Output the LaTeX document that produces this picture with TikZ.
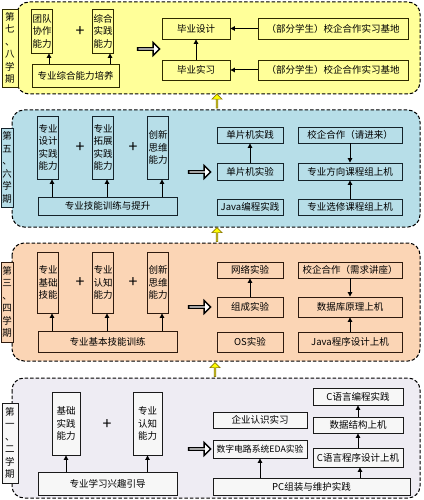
\documentclass[tikz,border=0pt]{standalone}
\usepackage{fontspec}
\setmainfont{Noto Sans CJK SC}
\usetikzlibrary{arrows.meta,shapes.arrows}
\definecolor{pY}{HTML}{FFFF99}
\definecolor{pB}{HTML}{B7DEE8}
\definecolor{pP}{HTML}{FBD5B5}
\definecolor{pL}{HTML}{EEECF3}
\definecolor{bY}{HTML}{2E2A00}
\definecolor{bB}{HTML}{14222A}
\definecolor{bP}{HTML}{2E1A0E}
\definecolor{bL}{HTML}{1A1A1A}
\definecolor{arY}{HTML}{FFFF00}
\definecolor{arYb}{HTML}{8A7A00}
\newcommand\mybox[7][]{\node[box,#1,minimum width={(#5)-(#3)},minimum height={(#6)-(#4)}] (#2) at ({((#3)+(#5))/2},{((#4)+(#6))/2}) {#7};}
\begin{document}
\begin{tikzpicture}[x=1pt,y=-1pt,
  every node/.style={font=\fontsize{9.5}{12.5}\selectfont},
  box/.style={draw,line width=0.9pt,inner sep=1pt,align=center},
  panel/.style={draw=black,dash pattern=on 3.5pt off 2pt,line width=1pt,rounded corners=12pt},
  arr/.style={line width=1pt,-{Triangle[length=4.5pt,width=4.5pt]}},
  plus/.style={font=\fontsize{16}{16}\selectfont,inner sep=0pt},
  hollow/.style={single arrow,draw=black,fill=white,line width=1.4pt,minimum height=22pt,minimum width=13pt,single arrow head extend=3pt,inner sep=0pt},
  yarrow/.style={single arrow,draw=arYb,fill=arY,line width=0.7pt,minimum height=14pt,minimum width=10pt,single arrow head extend=2pt,inner sep=0pt,shape border rotate=90},
  pan1/.style={box,draw=bY,fill=pY},
  pan2/.style={box,draw=bB,fill=pB},
  pan3/.style={box,draw=bP,fill=pP},
  pan4/.style={box,draw=bL,fill=white!97!black},
]
\useasboundingbox (0,0) rectangle (423,500);
% ---------- panel 1 ----------
\draw[panel,fill=pY] (17,2) rectangle (420,94);
\mybox[pan1]{L1}{2}{9}{18}{87}{第\\七\\、\\八\\学\\期}
\mybox[pan1]{a1}{32}{9}{52}{53}{团队\\协作\\能力}
\mybox[pan1]{a2}{93}{9}{113}{53}{综合\\实践\\能力}
\node[plus] (p1) at (80,32) {+};
\mybox[pan1]{b1}{32}{64}{119}{87}{专业综合能力培养}
\coordinate (ta1) at ([xshift=7pt]a1.south);
\coordinate (ta2) at ([xshift=7pt]a2.south);
\draw[arr] (ta1 |- b1.north) -- (ta1);
\draw[arr] (ta2 |- b1.north) -- (ta2);
\node[hollow] (h1) at (148,49) {};
\mybox[pan1]{c1}{162}{18}{230}{39}{毕业设计}
\mybox[pan1]{c2}{162}{60}{230}{80}{毕业实习}
\mybox[pan1]{d1}{258}{18}{408}{39}{（部分学生）校企合作实习基地}
\mybox[pan1]{d2}{258}{60}{408}{80}{（部分学生）校企合作实习基地}
\draw[arr] (c2) -- (c1);
\draw[arr] (d1) -- (c1);
\draw[arr] (d2) -- (c2);
\node[yarrow] (y1) at (217,101.5) {};
% ---------- panel 2 ----------
\draw[panel,fill=pB] (12,110) rectangle (420,227);
\mybox[pan2,inner sep=0pt]{L2}{1}{128}{13}{207}{第\\五\\、\\六\\学\\期}
\mybox[pan2]{e1}{38}{116}{58}{179}{专业\\设计\\实践\\能力}
\mybox[pan2]{e2}{93}{116}{113}{179}{专业\\拓展\\实践\\能力}
\mybox[pan2]{e3}{148}{116}{168}{179}{创新\\思维\\能力}
\node[plus] (p2) at (80,148) {+};
\node[plus] (p3) at (133,148) {+};
\mybox[pan2]{f1}{38}{197}{177}{215}{专业技能训练与提升}
\coordinate (te1) at ([xshift=4pt]e1.south);
\coordinate (te2) at ([xshift=4pt]e2.south);
\coordinate (te3) at ([xshift=4pt]e3.south);
\draw[arr] (te1 |- f1.north) -- (te1);
\draw[arr] (te2 |- f1.north) -- (te2);
\draw[arr] (te3 |- f1.north) -- (te3);
\node[hollow] (h2) at (199,172) {};
\mybox[pan2]{g1}{217}{127}{283}{143}{单片机实践}
\mybox[pan2]{g2}{217}{163}{283}{180}{单片机实验}
\mybox[pan2]{g3}{217}{199}{283}{215}{Java编程实践}
\mybox[pan2]{k1}{298}{127}{402}{143}{校企合作（请进来）}
\mybox[pan2]{k2}{298}{163}{402}{180}{专业方向课程组上机}
\mybox[pan2]{k3}{298}{199}{402}{215}{专业选修课程组上机}
\draw[arr] (g2) -- (g1);
\draw[arr] (k1) -- (k2);
\draw[arr] (k3) -- (k2);
\node[yarrow] (y2) at (217,235) {};
% ---------- panel 3 ----------
\draw[panel,fill=pP] (12,243) rectangle (420,361);
\mybox[pan3,inner sep=0pt]{L3}{1}{262}{13}{342}{第\\三\\、\\四\\学\\期}
\mybox[pan3]{m1}{38}{252}{58}{313}{专业\\基础\\技能}
\mybox[pan3]{m2}{93}{252}{113}{313}{专业\\认知\\能力}
\mybox[pan3]{m3}{148}{252}{168}{313}{创新\\思维\\能力}
\node[plus] (p4) at (80,283) {+};
\node[plus] (p5) at (133,283) {+};
\mybox[pan3]{n1}{38}{331}{177}{352}{专业基本技能训练}
\coordinate (tm1) at ([xshift=4pt]m1.south);
\coordinate (tm2) at ([xshift=4pt]m2.south);
\coordinate (tm3) at ([xshift=4pt]m3.south);
\draw[arr] (tm1 |- n1.north) -- (tm1);
\draw[arr] (tm2 |- n1.north) -- (tm2);
\draw[arr] (tm3 |- n1.north) -- (tm3);
\node[hollow] (h3) at (199,307) {};
\mybox[pan3]{q1}{217}{262}{283}{278}{网络实验}
\mybox[pan3]{q2}{217}{297}{283}{317}{组成实验}
\mybox[pan3]{q3}{217}{332}{283}{352}{OS实验}
\mybox[pan3]{r1}{298}{262}{402}{278}{校企合作（需求讲座）}
\mybox[pan3]{r2}{298}{297}{402}{317}{数据库原理上机}
\mybox[pan3]{r3}{298}{332}{402}{352}{Java程序设计上机}
\draw[arr] (q2) -- (q1);
\draw[arr] (r1) -- (r2);
\draw[arr] (r3) -- (r2);
\node[yarrow] (y3) at (215,370) {};
% ---------- panel 4 ----------
\draw[panel,fill=pL] (12,378) rectangle (420,498);
\mybox[pan4]{L4}{2}{403}{18}{483}{第\\一\\、\\二\\学\\期}
\mybox[pan4]{s1}{52}{392}{80}{455}{基础\\实践\\能力}
\mybox[pan4]{s2}{133}{392}{162}{455}{专业\\认知\\能力}
\node[plus] (p6) at (107,425) {+};
\mybox[pan4]{t1}{38}{472}{177}{495}{专业学习兴趣引导}
\draw[arr] (t1.north -| s1.south) -- (s1.south);
\draw[arr] (t1.north -| s2.south) -- (s2.south);
\node[hollow] (h4) at (199,449) {};
\mybox[pan4]{u1}{313}{388}{403}{405}{C语言编程实践}
\mybox[pan4]{u2}{313}{417}{403}{433}{数据结构上机}
\mybox[pan4]{u3}{313}{448}{403}{467}{C语言程序设计上机}
\mybox[pan4]{v1}{213}{412}{307}{428}{企业认识实习}
\mybox[pan4,inner sep=0pt,font=\fontsize{8.8}{10}\selectfont]{v2}{213}{440}{307}{458}{数字电路系统EDA实验}
\mybox[pan4]{w1}{213}{478}{410}{495}{PC组装与维护实践}
\coordinate (tv2) at ([xshift=0pt]v2.south);
\coordinate (tu3) at ([xshift=2pt]u3.south);
\draw[arr] (w1.north -| tv2) -- (tv2);
\draw[arr] (w1.north -| tu3) -- (tu3);
\draw[arr] (u3) -- (u2);
\draw[arr] (u2) -- (u1);
\end{tikzpicture}
\end{document}
